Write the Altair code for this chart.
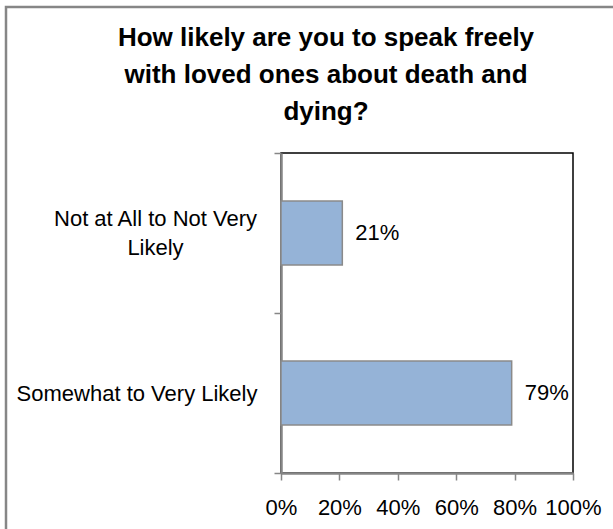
import altair as alt
import pandas as pd

# Survey responses and their shares
categories = ["Not at All to Not Very Likely", "Somewhat to Very Likely"]
shares = [0.21, 0.79]
x_ticks = [0, 0.2, 0.4, 0.6, 0.8, 1.0]
title_lines = [
    "How likely are you to speak freely",
    "with loved ones about death and",
    "dying?",
]

df = pd.DataFrame({"response": categories, "share": shares})

LABEL_FONT = "Liberation Sans, Arial, sans-serif"
TITLE_FONT = "Liberation Sans, Arial, sans-serif"
AXIS_GRAY = "#868686"

WRAPPED = categories[0]
is_wrapped = f"datum.value == '{WRAPPED}'"
label_expr = (
    f"datum.label == '{WRAPPED}' ? ['Not at All to Not Very', 'Likely'] : datum.label"
)

y_axis = alt.Axis(
    title=None,
    labelExpr=label_expr,
    labelFont=LABEL_FONT,
    labelFontSize=22,
    labelColor="black",
    labelLimit=0,
    labelLineHeight=29,
    labelAlign={"condition": {"test": is_wrapped, "value": "center"}, "value": "right"},
    labelPadding={"condition": {"test": is_wrapped, "value": 119}, "value": 17},
    labelOffset={"condition": {"test": is_wrapped, "value": -15}, "value": 0},
    tickBand="extent",
    tickSize=7,
    tickColor=AXIS_GRAY,
    tickWidth=1.5,
    domainColor=AXIS_GRAY,
    domainWidth=2.5,
    grid=False,
)

x_axis = alt.Axis(
    title=None,
    values=x_ticks,
    format=".0%",
    labelFont=LABEL_FONT,
    labelFontSize=22,
    labelColor="black",
    labelPadding=17,
    labelFlush=False,
    labelOverlap=False,
    tickSize=7,
    tickColor=AXIS_GRAY,
    tickWidth=1.5,
    domainColor=AXIS_GRAY,
    domainWidth=2.5,
    grid=False,
)

base = alt.Chart(df).encode(
    y=alt.Y(
        "response:N",
        sort=categories,
        scale=alt.Scale(paddingInner=0, paddingOuter=0),
        axis=y_axis,
    ),
)

bars = base.mark_bar(
    color="#95B3D7", stroke="#8A8A8A", strokeWidth=1.5, height={"band": 0.4}
).encode(
    x=alt.X("share:Q", scale=alt.Scale(domain=[0, 1], nice=False), axis=x_axis),
)

values = base.mark_text(
    align="left", baseline="middle", dx=13, font=LABEL_FONT, fontSize=22, color="black"
).encode(
    x=alt.X("share:Q"),
    text=alt.Text("share:Q", format=".0%"),
)

# Outer frame around the whole figure
frame = alt.Chart(pd.DataFrame({"f": [0]})).mark_rect(
    fill=None, stroke=AXIS_GRAY, strokeWidth=2.5
).encode(
    x=alt.value(-275), x2=alt.value(345),
    y=alt.value(-146), y2=alt.value(390),
)

chart = (
    alt.layer(frame, bars, values)
    .properties(
        width=292,
        height=320,
        title=alt.Title(
            title_lines,
            font=TITLE_FONT,
            fontSize=26,
            fontWeight="bold",
            color="black",
            anchor="middle",
            frame="group",
            dx=-101,
            lineHeight=37,
            offset=-119,
        ),
        autosize=alt.AutoSizeParams(type="none"),
        padding={"left": 281, "top": 153, "right": 40, "bottom": 56},
    )
    .configure(background="white")
    .configure_view(stroke="black", strokeWidth=1.5)
)

chart.save("out.html", embed_options={"renderer": "svg", "actions": False})
